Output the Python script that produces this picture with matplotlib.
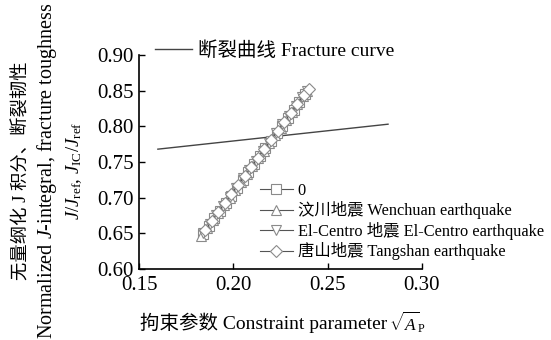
import numpy as np
import matplotlib
matplotlib.use("Agg")
import matplotlib.pyplot as plt

plt.rcParams['font.family'] = ['Liberation Serif', 'Noto Sans CJK SC']
plt.rcParams['mathtext.fontset'] = 'custom'
plt.rcParams['mathtext.rm'] = 'Liberation Serif'
plt.rcParams['mathtext.it'] = 'Liberation Serif:italic'

# fracture curve (two end points of the straight line)
frac_x = [0.160, 0.282]
frac_y = [0.768, 0.803]

# J-integral curves for the four loadings
x_0 = [0.184, 0.187, 0.190, 0.193, 0.196, 0.199, 0.202, 0.205, 0.208, 0.211,
       0.214, 0.217, 0.220, 0.223, 0.226, 0.229, 0.232, 0.235, 0.238]
y_0 = [0.649, 0.660, 0.671, 0.682, 0.693, 0.703, 0.714, 0.725, 0.736, 0.747,
       0.758, 0.769, 0.780, 0.790, 0.801, 0.812, 0.823, 0.834, 0.845]

x_wc = [0.183, 0.186, 0.189, 0.192, 0.195, 0.198, 0.201, 0.204, 0.207, 0.210,
        0.213, 0.216, 0.219, 0.222, 0.225, 0.228, 0.231, 0.234, 0.237, 0.239]
y_wc = [0.646, 0.657, 0.668, 0.679, 0.690, 0.700, 0.711, 0.722, 0.733, 0.744,
        0.755, 0.766, 0.777, 0.788, 0.798, 0.809, 0.820, 0.831, 0.842, 0.849]

x_ec = [0.184, 0.1875, 0.191, 0.1945, 0.198, 0.2015, 0.205, 0.2085, 0.212,
        0.2155, 0.219, 0.2225, 0.226, 0.2295, 0.233, 0.2365, 0.239]
y_ec = [0.651, 0.663, 0.676, 0.689, 0.701, 0.714, 0.727, 0.739, 0.752,
        0.765, 0.777, 0.790, 0.803, 0.815, 0.828, 0.841, 0.850]

x_ts = [0.185, 0.1885, 0.192, 0.1955, 0.199, 0.2025, 0.206, 0.2095, 0.213,
        0.2165, 0.220, 0.2235, 0.227, 0.2305, 0.234, 0.2375, 0.240]
y_ts = [0.654, 0.667, 0.680, 0.692, 0.705, 0.718, 0.730, 0.743, 0.756,
        0.768, 0.781, 0.794, 0.806, 0.819, 0.832, 0.844, 0.852]

labels = ['0', '汶川地震 Wenchuan earthquake',
          'El-Centro 地震 El-Centro earthquake', '唐山地震 Tangshan earthquake']
markers = ['s', '^', 'v', 'D']

W, H = 551, 340
fig = plt.figure(figsize=(W / 100, H / 100), dpi=100)
ax = fig.add_axes([139 / W, 1 - 269 / H, (422 - 139) / W, (269 - 55) / H])

frac_line, = ax.plot(frac_x, frac_y, color='#444444', lw=1.0)

handles = []
for xs, ys, m, lab in zip([x_0, x_wc, x_ec, x_ts], [y_0, y_wc, y_ec, y_ts],
                          markers, labels):
    ms = 6 if m == 'D' else 7
    h, = ax.plot(xs, ys, color='#555555', lw=0.8, marker=m, markersize=ms,
                 markerfacecolor='white', markeredgecolor='#8a8a8a',
                 markeredgewidth=0.8, label=lab)
    handles.append(h)

ax.set_xlim(0.15, 0.30)
ax.set_ylim(0.60, 0.90)
ax.set_xticks([0.15, 0.20, 0.25, 0.30])
ax.set_yticks(np.arange(0.60, 0.901, 0.05))
ax.xaxis.set_major_formatter(plt.FormatStrFormatter('%.2f'))
ax.yaxis.set_major_formatter(plt.FormatStrFormatter('%.2f'))
ax.tick_params(direction='in', length=4, width=1, labelsize=15)
ax.tick_params(axis='x', pad=5)
ax.tick_params(axis='y', pad=4)
for s in ['top', 'right']:
    ax.spines[s].set_visible(False)
for s in ['left', 'bottom']:
    ax.spines[s].set_linewidth(1.2)

leg1 = fig.legend([frac_line], ['断裂曲线 Fracture curve'], loc='upper left',
                  bbox_to_anchor=(155 / W, 1 - 41 / H), frameon=False,
                  fontsize=14, handlelength=1.9, handletextpad=0.3,
                  borderpad=0, borderaxespad=0)
leg2 = fig.legend(handles, labels, loc='upper left',
                  bbox_to_anchor=(260 / W, 1 - 183 / H), frameon=False,
                  fontsize=11.8, handlelength=2.0, handletextpad=0.3,
                  labelspacing=0.15, borderpad=0, borderaxespad=0)

# y label in three columns
yc = 1 - 171 / H
fig.text(22 / W, yc, '无量纲化 J 积分、断裂韧性', rotation=90,
         ha='center', va='center', fontsize=13.2)
fig.text(47 / W, yc, 'Normalized $J$-integral, fracture toughness',
         rotation=90, ha='center', va='center', fontsize=14.5)
fig.text(74 / W, yc, r'$J/J_{\mathrm{ref}}$, $J_{\mathrm{IC}}/J_{\mathrm{ref}}$',
         rotation=90, ha='center', va='center', fontsize=13.5)

# x label (text part + math part)
fig.text(387 / W, 1 - 323 / H, '拘束参数 Constraint parameter', ha='right',
         va='center', fontsize=14)
fig.text(389 / W, 1 - 322 / H, r'$\sqrt{A}_{\mathrm{P}}$', ha='left',
         va='center', fontsize=12.5)

fig.savefig('out.png', dpi=100)
